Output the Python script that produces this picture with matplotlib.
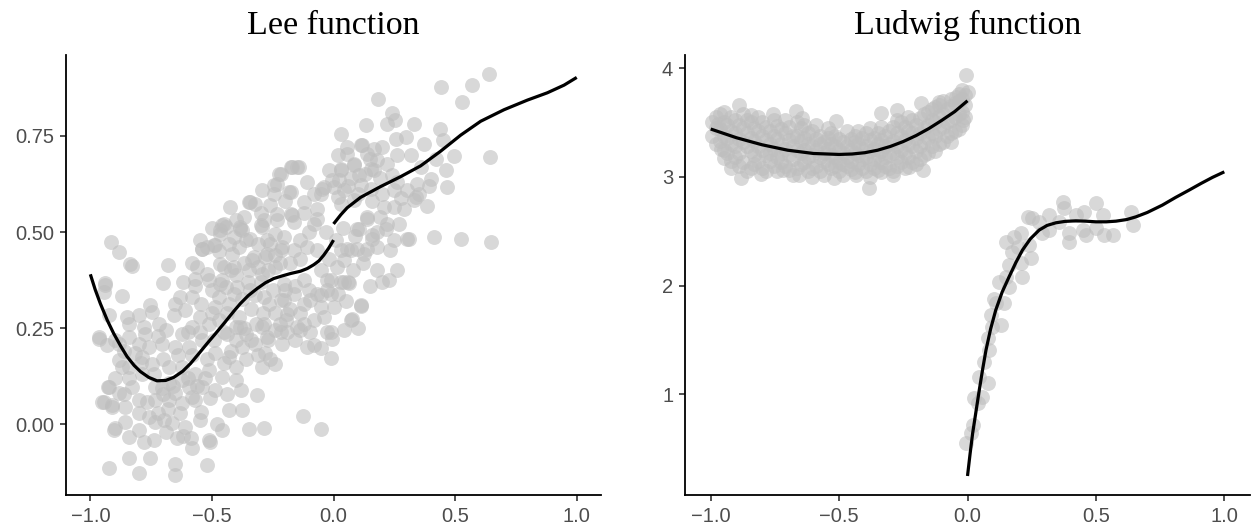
import matplotlib
matplotlib.use("Agg")
import matplotlib.pyplot as plt

# ---------------- Lee function ----------------
lee_points = [
    (-0.914, 0.475), (-0.883, 0.447), (-0.835, 0.416), (-0.828, 0.412), (-0.680, 0.414),
    (-0.702, 0.368), (-0.938, 0.368), (-0.945, 0.345), (-0.870, 0.333), (-0.925, 0.284),
    (-0.849, 0.280), (-0.801, 0.284), (-0.753, 0.310), (-0.746, 0.293), (-0.781, 0.254),
    (-0.774, 0.236), (-0.966, 0.228), (-0.932, 0.206), (-0.883, 0.210), (-0.842, 0.228),
    (-0.815, 0.185), (-0.870, 0.150), (-0.788, 0.176), (-0.746, 0.158), (-0.925, 0.098),
    (-0.883, 0.081), (-0.945, 0.059), (-0.911, 0.050), (-0.856, 0.046), (-0.828, 0.098),
    (-0.801, 0.063), (-0.767, 0.059), (-0.733, 0.063), (-0.705, 0.094), (-0.678, 0.063),
    (-0.650, 0.081), (-0.623, 0.055), (-0.595, 0.098), (-0.568, 0.063), (-0.547, 0.033),
    (-0.506, 0.068), (-0.897, -0.010), (-0.856, 0.007), (-0.842, -0.032), (-0.801, -0.015),
    (-0.781, -0.045), (-0.733, 0.007), (-0.699, 0.011), (-0.664, 0.003), (-0.644, -0.036),
    (-0.609, -0.006), (-0.588, -0.036), (-0.582, -0.062), (-0.513, -0.041), (-0.458, -0.015),
    (-0.430, 0.037), (-0.376, 0.037), (-0.348, -0.013), (-0.286, -0.010), (-0.314, 0.076),
    (-0.925, -0.113), (-0.842, -0.087), (-0.801, -0.127), (-0.753, -0.088), (-0.650, -0.104),
    (-0.650, -0.132), (-0.520, -0.106), (-0.509, -0.045), (-0.126, 0.022), (-0.051, -0.013),
    (0.228, 0.375), (0.262, 0.401), (0.111, 0.307), (0.077, 0.275), (0.042, 0.245),
    (-0.012, 0.241), (-0.005, 0.223), (-0.012, 0.172), (-0.053, 0.198), (-0.081, 0.206),
    (-0.108, 0.202), (-0.136, 0.245), (-0.053, 0.336), (-0.012, 0.340), (-0.053, 0.306),
    (0.029, 0.371), (0.063, 0.368), (-0.122, 0.314), (-0.026, 0.375),
    (-0.444, 0.513), (-0.376, 0.505), (-0.293, 0.513), (-0.239, 0.496), (-0.540, 0.457),
    (-0.486, 0.466), (-0.417, 0.444), (-0.335, 0.427), (-0.280, 0.436), (-0.211, 0.462),
    (-0.561, 0.410), (-0.568, 0.379), (-0.513, 0.375), (-0.458, 0.375), (-0.403, 0.388),
    (-0.348, 0.401), (-0.293, 0.392), (-0.239, 0.410), (-0.444, 0.358), (-0.582, 0.331),
    (-0.650, 0.314), (-0.657, 0.284), (-0.609, 0.297), (-0.547, 0.314), (-0.486, 0.306),
    (-0.430, 0.314), (-0.376, 0.327), (-0.321, 0.336), (-0.266, 0.314), (-0.204, 0.323),
    (-0.718, 0.262), (-0.691, 0.245), (-0.623, 0.236), (-0.582, 0.254), (-0.513, 0.262),
    (-0.472, 0.271), (-0.403, 0.254), (-0.362, 0.236), (-0.293, 0.254), (-0.239, 0.245),
    (-0.197, 0.271), (-0.705, 0.210), (-0.650, 0.202), (-0.595, 0.202), (-0.540, 0.219),
    (-0.486, 0.185), (-0.430, 0.176), (-0.376, 0.202), (-0.321, 0.210), (-0.280, 0.185),
    (-0.239, 0.158), (-0.293, 0.150), (-0.403, 0.150), (-0.403, 0.115), (-0.883, 0.167),
    (-0.842, 0.150), (-0.788, 0.132), (-0.678, 0.150), (-0.623, 0.150), (-0.568, 0.132),
    (-0.513, 0.141), (-0.458, 0.124), (-0.623, 0.115), (-0.678, 0.107), (-0.733, 0.098),
    (-0.540, 0.098), (-0.486, 0.089),
    (-0.424, 0.566), (-0.342, 0.578), (-0.293, 0.609), (-0.232, 0.626), (-0.184, 0.605),
    (-0.246, 0.600), (-0.177, 0.669), (-0.143, 0.668), (-0.122, 0.578), (-0.067, 0.561),
    (-0.047, 0.613), (-0.005, 0.635), (0.029, 0.665), (0.084, 0.678), (0.118, 0.726),
    (0.056, 0.721), (0.042, 0.609), (0.139, 0.704), (0.166, 0.661), (0.139, 0.535),
    (0.104, 0.509), (0.159, 0.483), (0.139, 0.457), (0.097, 0.457), (0.056, 0.457),
    (0.029, 0.453), (0.042, 0.427), (0.015, 0.410), (-0.012, 0.375), (0.042, 0.371),
    (-0.026, 0.349), (-0.067, 0.340), (-0.095, 0.323), (0.000, 0.306), (0.111, 0.310),
    (0.070, 0.271), (-0.026, 0.241), (-0.095, 0.241), (-0.149, 0.254), (-0.190, 0.288),
    (-0.218, 0.323), (-0.163, 0.340), (-0.122, 0.375), (-0.204, 0.366), (-0.286, 0.332),
    (-0.342, 0.349), (-0.396, 0.358), (-0.465, 0.366), (-0.520, 0.392), (-0.465, 0.418),
    (-0.410, 0.410), (-0.328, 0.436), (-0.273, 0.444), (-0.218, 0.453), (-0.163, 0.453),
    (-0.108, 0.462), (-0.067, 0.453), (-0.136, 0.479), (-0.204, 0.488), (-0.273, 0.479),
    (-0.342, 0.483), (-0.410, 0.488), (-0.465, 0.496), (-0.520, 0.462), (-0.451, 0.522),
    (-0.383, 0.513), (-0.300, 0.518), (-0.232, 0.531), (-0.163, 0.527), (-0.081, 0.522),
    (-0.067, 0.535), (-0.177, 0.546), (-0.232, 0.546), (-0.286, 0.530), (-0.437, 0.236),
    (-0.383, 0.254), (-0.286, 0.262), (-0.218, 0.241), (-0.273, 0.228),
    (0.640, 0.910), (0.571, 0.882), (0.530, 0.838), (0.440, 0.876), (0.182, 0.847),
    (0.241, 0.810), (0.251, 0.791), (0.218, 0.780), (0.132, 0.778), (0.330, 0.782),
    (0.438, 0.769), (0.029, 0.754), (0.111, 0.726), (0.255, 0.741), (0.296, 0.746),
    (0.372, 0.730), (0.451, 0.739), (0.495, 0.697), (0.643, 0.694), (0.056, 0.704),
    (0.166, 0.715), (0.179, 0.687), (0.220, 0.678), (0.084, 0.674), (0.029, 0.661),
    (0.104, 0.648), (0.152, 0.665), (0.241, 0.648), (0.261, 0.630), (0.461, 0.661),
    (0.468, 0.618), (0.399, 0.639), (0.392, 0.619), (0.344, 0.626), (-0.149, 0.669),
    (-0.218, 0.652), (-0.177, 0.605), (-0.040, 0.618), (0.000, 0.618), (0.022, 0.635),
    (-0.053, 0.600), (0.029, 0.574), (0.084, 0.583), (0.111, 0.622), (0.152, 0.613),
    (0.207, 0.566), (0.193, 0.540), (0.139, 0.540), (0.097, 0.509), (0.214, 0.509),
    (0.248, 0.566), (0.276, 0.588), (0.330, 0.583), (0.386, 0.568), (0.337, 0.592),
    (0.159, 0.492), (0.248, 0.479), (0.310, 0.481), (0.413, 0.488), (0.523, 0.481),
    (0.649, 0.475), (0.179, 0.462), (0.234, 0.453), (0.125, 0.444), (0.070, 0.453),
    (-0.348, 0.577), (-0.321, 0.574), (-0.225, 0.652), (-0.170, 0.669), (-0.246, 0.622),
    (-0.540, 0.456), (-0.493, 0.466), (-0.465, 0.505), (-0.458, 0.518), (-0.383, 0.509),
    (-0.170, 0.544), (0.303, 0.481), (-0.966, 0.223), (-0.938, 0.362), (-0.929, 0.096),
    (-0.953, 0.057), (-0.911, 0.046), (-0.904, -0.015),
    (-0.47, 0.45), (-0.43, 0.47), (-0.39, 0.46), (-0.36, 0.48), (-0.31, 0.47),
    (-0.26, 0.47), (-0.45, 0.41), (-0.42, 0.40), (-0.37, 0.42), (-0.31, 0.41),
    (-0.27, 0.40), (-0.22, 0.42), (-0.50, 0.35), (-0.47, 0.33), (-0.41, 0.34),
    (-0.35, 0.37), (-0.30, 0.37), (-0.25, 0.35), (-0.20, 0.35), (-0.16, 0.36),
    (-0.55, 0.28), (-0.50, 0.29), (-0.44, 0.29), (-0.39, 0.28), (-0.34, 0.30),
    (-0.29, 0.29), (-0.24, 0.29), (-0.18, 0.30), (-0.14, 0.29), (-0.60, 0.24),
    (-0.55, 0.24), (-0.49, 0.22), (-0.45, 0.24), (-0.40, 0.22), (-0.34, 0.22),
    (-0.27, 0.22), (-0.21, 0.21), (-0.16, 0.22), (-0.64, 0.18), (-0.58, 0.18),
    (-0.52, 0.17), (-0.45, 0.16), (-0.36, 0.17), (-0.31, 0.18), (-0.26, 0.17),
    (-0.70, 0.17), (-0.76, 0.20), (-0.72, 0.23), (-0.80, 0.21), (-0.86, 0.19),
    (-0.90, 0.22), (-0.84, 0.26), (-0.79, 0.16), (-0.74, 0.13), (-0.70, 0.08),
    (-0.66, 0.10), (-0.60, 0.12), (-0.56, 0.10), (-0.53, 0.12), (-0.58, 0.07),
    (-0.63, 0.03), (-0.68, 0.04), (-0.72, 0.03), (-0.76, 0.02), (-0.80, 0.03),
    (-0.86, 0.08), (-0.90, 0.12), (-0.84, 0.12), (-0.62, -0.03), (-0.69, -0.02),
    (-0.74, -0.04), (-0.55, 0.01), (-0.48, 0.00), (-0.44, 0.08), (-0.38, 0.09),
    (-0.42, 0.19), (-0.37, 0.25), (-0.32, 0.26), (-0.22, 0.26), (-0.19, 0.24),
    (-0.12, 0.26), (-0.08, 0.27), (-0.04, 0.28), (-0.10, 0.35), (-0.14, 0.43),
    (-0.18, 0.42), (-0.24, 0.44), (-0.05, 0.40), (-0.02, 0.43), (0.02, 0.34),
    (0.05, 0.32), (0.08, 0.40), (0.12, 0.42), (0.09, 0.49), (0.04, 0.51),
    (0.01, 0.48), (-0.03, 0.50), (-0.10, 0.50), (-0.12, 0.55), (-0.20, 0.58),
    (-0.26, 0.57), (-0.30, 0.55), (-0.37, 0.54), (-0.40, 0.53), (-0.50, 0.51),
    (-0.55, 0.48), (-0.58, 0.42), (-0.62, 0.37), (-0.63, 0.33), (-0.57, 0.36),
    (0.02, 0.59), (0.06, 0.62), (0.10, 0.60), (0.16, 0.58), (0.20, 0.60),
    (0.25, 0.61), (0.30, 0.61), (0.35, 0.60), (0.29, 0.56), (0.22, 0.52),
    (0.18, 0.50), (0.27, 0.52), (0.19, 0.64), (0.13, 0.65), (0.07, 0.64),
    (0.02, 0.70), (-0.02, 0.66), (-0.08, 0.60), (-0.11, 0.63), (0.15, 0.69),
    (0.20, 0.72), (0.26, 0.70), (0.32, 0.70), (0.36, 0.67), (0.42, 0.69),
    (0.06, 0.37), (0.15, 0.36), (0.18, 0.40), (0.10, 0.25), (0.20, 0.37),
]

# fitted curve, split at the discontinuity x = 0
lee_left_x = [-1.0, -0.98, -0.959, -0.93, -0.904, -0.875, -0.849, -0.82, -0.794, -0.76,
              -0.726, -0.69, -0.657, -0.62, -0.588, -0.555, -0.52, -0.485, -0.451, -0.41,
              -0.383, -0.35, -0.314, -0.28, -0.246, -0.21, -0.177, -0.136, -0.108, -0.081,
              -0.06, -0.04, -0.02, 0.0]
lee_left_y = [0.390, 0.350, 0.314, 0.270, 0.236, 0.203, 0.176, 0.153, 0.137, 0.122,
              0.113, 0.114, 0.122, 0.138, 0.158, 0.183, 0.210, 0.236, 0.262, 0.294,
              0.314, 0.335, 0.353, 0.368, 0.379, 0.386, 0.392, 0.398, 0.405, 0.415,
              0.425, 0.440, 0.458, 0.479]
lee_right_x = [0.0, 0.03, 0.056, 0.111, 0.193, 0.276, 0.358, 0.44, 0.523, 0.605,
               0.701, 0.797, 0.879, 0.948, 1.0]
lee_right_y = [0.521, 0.545, 0.563, 0.590, 0.618, 0.644, 0.672, 0.710, 0.752, 0.788,
               0.818, 0.843, 0.862, 0.882, 0.902]

# ---------------- Ludwig function ----------------
ludwig_points = [
    (-0.889, 3.66), (-0.947, 3.60), (-0.973, 3.49), (-0.960, 3.26), (-0.947, 3.17),
    (-0.921, 3.08), (-0.882, 2.985), (-0.805, 3.03), (-0.843, 3.57), (-0.759, 3.58),
    (-0.668, 3.61), (-0.643, 3.54), (-0.720, 3.06), (-0.655, 3.015), (-0.604, 3.00),
    (-0.512, 3.515), (-0.519, 2.985), (-0.435, 3.015), (-0.383, 2.893), (-0.337, 3.583),
    (-0.273, 3.614), (-0.292, 3.016), (-0.227, 3.09), (-0.175, 3.06), (-0.181, 3.675),
    (-0.110, 3.69), (-0.065, 3.32), (-0.045, 3.736), (-0.006, 3.936), (0.000, 3.78),
    (-0.019, 3.52),
    (-0.98, 3.30), (-0.98, 3.45), (-0.98, 3.55),
    (-0.95, 3.25), (-0.95, 3.38), (-0.95, 3.50),
    (-0.92, 3.15), (-0.92, 3.30), (-0.92, 3.42), (-0.92, 3.55),
    (-0.89, 3.10), (-0.89, 3.22), (-0.89, 3.35), (-0.89, 3.48),
    (-0.86, 3.05), (-0.86, 3.28), (-0.86, 3.40), (-0.86, 3.52),
    (-0.83, 3.12), (-0.83, 3.20), (-0.83, 3.33), (-0.83, 3.45),
    (-0.80, 3.08), (-0.80, 3.25), (-0.80, 3.38), (-0.80, 3.50),
    (-0.77, 3.15), (-0.77, 3.22), (-0.77, 3.30), (-0.77, 3.42),
    (-0.74, 3.05), (-0.74, 3.18), (-0.74, 3.35), (-0.74, 3.47),
    (-0.71, 3.10), (-0.71, 3.26), (-0.71, 3.40), (-0.71, 3.52),
    (-0.68, 3.02), (-0.68, 3.16), (-0.68, 3.28), (-0.68, 3.38),
    (-0.65, 3.12), (-0.65, 3.22), (-0.65, 3.33), (-0.65, 3.45),
    (-0.62, 3.05), (-0.62, 3.18), (-0.62, 3.30), (-0.62, 3.40),
    (-0.59, 3.10), (-0.59, 3.25), (-0.59, 3.35), (-0.59, 3.48),
    (-0.56, 3.02), (-0.56, 3.15), (-0.56, 3.22), (-0.56, 3.32),
    (-0.53, 3.08), (-0.53, 3.20), (-0.53, 3.30), (-0.53, 3.40),
    (-0.50, 3.05), (-0.50, 3.14), (-0.50, 3.25), (-0.50, 3.35),
    (-0.47, 3.10), (-0.47, 3.18), (-0.47, 3.28), (-0.47, 3.42),
    (-0.44, 3.04), (-0.44, 3.22), (-0.44, 3.32), (-0.44, 3.38),
    (-0.41, 3.08), (-0.41, 3.16), (-0.41, 3.26), (-0.41, 3.36),
    (-0.38, 3.00), (-0.38, 3.12), (-0.38, 3.24), (-0.38, 3.34), (-0.38, 3.45),
    (-0.35, 3.06), (-0.35, 3.20), (-0.35, 3.30), (-0.35, 3.40),
    (-0.32, 3.10), (-0.32, 3.18), (-0.32, 3.28), (-0.32, 3.38),
    (-0.29, 3.05), (-0.29, 3.22), (-0.29, 3.33), (-0.29, 3.46),
    (-0.26, 3.14), (-0.26, 3.25), (-0.26, 3.38), (-0.26, 3.50),
    (-0.23, 3.18), (-0.23, 3.30), (-0.23, 3.42), (-0.23, 3.55),
    (-0.20, 3.12), (-0.20, 3.24), (-0.20, 3.36), (-0.20, 3.48),
    (-0.17, 3.20), (-0.17, 3.32), (-0.17, 3.45), (-0.17, 3.58),
    (-0.14, 3.28), (-0.14, 3.40), (-0.14, 3.52), (-0.14, 3.62),
    (-0.11, 3.30), (-0.11, 3.44), (-0.11, 3.56), (-0.11, 3.66),
    (-0.08, 3.38), (-0.08, 3.50), (-0.08, 3.62),
    (-0.05, 3.42), (-0.05, 3.55), (-0.05, 3.68),
    (-0.02, 3.48), (-0.02, 3.60), (-0.02, 3.72), (-0.02, 3.80),
    (-0.995, 3.38), (-0.995, 3.50),
    (-0.965, 3.33), (-0.965, 3.44), (-0.965, 3.58),
    (-0.935, 3.22), (-0.935, 3.36), (-0.935, 3.48),
    (-0.905, 3.18), (-0.905, 3.28), (-0.905, 3.40), (-0.905, 3.52),
    (-0.875, 3.14), (-0.875, 3.32), (-0.875, 3.45), (-0.875, 3.58),
    (-0.845, 3.08), (-0.845, 3.24), (-0.845, 3.36), (-0.845, 3.50),
    (-0.815, 3.15), (-0.815, 3.28), (-0.815, 3.42), (-0.815, 3.55),
    (-0.785, 3.05), (-0.785, 3.20), (-0.785, 3.34), (-0.785, 3.46),
    (-0.755, 3.10), (-0.755, 3.26), (-0.755, 3.38), (-0.755, 3.52),
    (-0.725, 3.14), (-0.725, 3.22), (-0.725, 3.30), (-0.725, 3.44),
    (-0.695, 3.06), (-0.695, 3.20), (-0.695, 3.34), (-0.695, 3.46),
    (-0.665, 3.08), (-0.665, 3.25), (-0.665, 3.38), (-0.665, 3.50),
    (-0.635, 3.14), (-0.635, 3.25), (-0.635, 3.36), (-0.635, 3.48),
    (-0.605, 3.08), (-0.605, 3.20), (-0.605, 3.28), (-0.605, 3.42),
    (-0.575, 3.05), (-0.575, 3.18), (-0.575, 3.30), (-0.575, 3.38),
    (-0.545, 3.12), (-0.545, 3.26), (-0.545, 3.36), (-0.545, 3.45),
    (-0.515, 3.10), (-0.515, 3.18), (-0.515, 3.28), (-0.515, 3.38),
    (-0.485, 3.02), (-0.485, 3.12), (-0.485, 3.22), (-0.485, 3.32),
    (-0.455, 3.07), (-0.455, 3.15), (-0.455, 3.25), (-0.455, 3.35),
    (-0.425, 3.12), (-0.425, 3.20), (-0.425, 3.30), (-0.425, 3.42),
    (-0.395, 3.05), (-0.395, 3.18), (-0.395, 3.28), (-0.395, 3.40),
    (-0.365, 3.08), (-0.365, 3.16), (-0.365, 3.26), (-0.365, 3.36),
    (-0.335, 3.04), (-0.335, 3.14), (-0.335, 3.24), (-0.335, 3.34), (-0.335, 3.46),
    (-0.305, 3.08), (-0.305, 3.20), (-0.305, 3.30), (-0.305, 3.42),
    (-0.275, 3.10), (-0.275, 3.18), (-0.275, 3.28), (-0.275, 3.40), (-0.275, 3.52),
    (-0.245, 3.08), (-0.245, 3.22), (-0.245, 3.34), (-0.245, 3.46),
    (-0.215, 3.14), (-0.215, 3.28), (-0.215, 3.40), (-0.215, 3.52),
    (-0.185, 3.16), (-0.185, 3.28), (-0.185, 3.40), (-0.185, 3.54),
    (-0.155, 3.22), (-0.155, 3.36), (-0.155, 3.48), (-0.155, 3.60),
    (-0.125, 3.24), (-0.125, 3.38), (-0.125, 3.50), (-0.125, 3.64),
    (-0.095, 3.32), (-0.095, 3.46), (-0.095, 3.58), (-0.095, 3.70),
    (-0.065, 3.40), (-0.065, 3.52), (-0.065, 3.65), (-0.065, 3.72),
    (-0.035, 3.44), (-0.035, 3.58), (-0.035, 3.70), (-0.035, 3.76),
    (-0.010, 3.55), (-0.010, 3.66), (-0.010, 3.75),
    (-0.006, 0.547), (0.013, 0.640), (0.020, 0.716), (0.039, 0.915), (0.026, 0.961),
    (0.058, 0.976), (0.078, 1.100), (0.046, 1.160), (0.065, 1.298), (0.085, 1.406),
    (0.078, 1.513), (0.097, 1.620), (0.130, 1.636), (0.091, 1.728), (0.111, 1.835),
    (0.143, 1.835), (0.104, 1.880), (0.162, 1.988), (0.150, 2.080), (0.214, 2.080),
    (0.162, 2.188), (0.208, 2.203), (0.247, 2.249), (0.150, 2.402), (0.182, 2.448),
    (0.208, 2.479), (0.240, 2.372), (0.234, 2.632), (0.253, 2.617), (0.279, 2.586),
    (0.318, 2.648), (0.292, 2.479), (0.370, 2.770), (0.377, 2.709), (0.396, 2.402),
    (0.396, 2.479), (0.422, 2.648), (0.454, 2.678), (0.448, 2.510), (0.461, 2.464),
    (0.500, 2.755), (0.526, 2.648), (0.500, 2.525), (0.532, 2.464), (0.565, 2.464),
    (0.636, 2.678), (0.643, 2.556), (0.357, 2.586), (0.318, 2.510), (0.175, 2.310),
    (0.123, 2.034), (0.195, 2.356),
]

ludwig_left_x = [-1.0, -0.9, -0.8, -0.7, -0.6, -0.5, -0.45, -0.4, -0.35, -0.3, -0.25,
                 -0.2, -0.15, -0.1, -0.05, 0.0]
ludwig_left_y = [3.440, 3.360, 3.295, 3.245, 3.215, 3.206, 3.210, 3.222, 3.245, 3.280,
                 3.325, 3.380, 3.445, 3.520, 3.600, 3.700]
ludwig_right_x = [0.0, 0.01, 0.02, 0.033, 0.046, 0.059, 0.072, 0.09, 0.11, 0.135, 0.162,
                  0.188, 0.214, 0.245, 0.279, 0.31, 0.344, 0.38, 0.422, 0.46, 0.5, 0.54,
                  0.578, 0.62, 0.656, 0.7, 0.759, 0.81, 0.863, 0.91, 0.954, 1.0]
ludwig_right_y = [0.247, 0.450, 0.640, 0.840, 1.040, 1.230, 1.406, 1.600, 1.774, 1.940,
                  2.080, 2.210, 2.326, 2.430, 2.510, 2.553, 2.577, 2.590, 2.595, 2.592,
                  2.586, 2.586, 2.592, 2.607, 2.632, 2.672, 2.740, 2.810, 2.878, 2.940,
                  2.995, 3.046]

titles = ["Lee function", "Ludwig function"]
lee_yticks = [0.0, 0.25, 0.5, 0.75]
ludwig_yticks = [1, 2, 3, 4]
xticks = [-1.0, -0.5, 0.0, 0.5, 1.0]

POINT_COLOR = "#bebebe"
TICK_LABEL_COLOR = "#4d4d4d"

fig = plt.figure(figsize=(12.53, 5.30), dpi=100)
ax1 = fig.add_axes([0.0527, 0.066, 0.4270, 0.830])
ax2 = fig.add_axes([0.5467, 0.066, 0.4509, 0.830])


def style_axes(ax, title, yticks, ylabels, ylim):
    ax.set_xlim(-1.1, 1.1)
    ax.set_ylim(*ylim)
    ax.set_xticks(xticks)
    ax.set_xticklabels([f"{v:.1f}".replace("-", "\u2212") for v in xticks])
    ax.set_yticks(yticks)
    ax.set_yticklabels(ylabels)
    for side in ("top", "right"):
        ax.spines[side].set_visible(False)
    for side in ("left", "bottom"):
        ax.spines[side].set_linewidth(1.3)
        ax.spines[side].set_color("black")
    ax.tick_params(axis="both", length=4.5, width=1.2, color="#333333",
                   labelcolor=TICK_LABEL_COLOR, labelsize=14.5, pad=4)
    for lab in ax.get_xticklabels() + ax.get_yticklabels():
        lab.set_fontfamily("Liberation Sans")
    ax.set_title(title, fontfamily="Liberation Serif", fontsize=24.5, pad=15)


def draw(ax, points, lx, ly, rx, ry):
    xs = [p[0] for p in points]
    ys = [p[1] for p in points]
    ax.scatter(xs, ys, s=115, color=POINT_COLOR, alpha=0.6, linewidths=0, zorder=2)
    for cx, cy in ((lx, ly), (rx, ry)):
        ax.plot(cx, cy, color="black", lw=2.3, zorder=3,
                solid_capstyle="butt", solid_joinstyle="round")


draw(ax1, lee_points, lee_left_x, lee_left_y, lee_right_x, lee_right_y)
style_axes(ax1, titles[0], lee_yticks, ["0.00", "0.25", "0.50", "0.75"], (-0.184, 0.96))

draw(ax2, ludwig_points, ludwig_left_x, ludwig_left_y, ludwig_right_x, ludwig_right_y)
style_axes(ax2, titles[1], ludwig_yticks, ["1", "2", "3", "4"], (0.072, 4.12))

fig.savefig("out.png", dpi=100)
